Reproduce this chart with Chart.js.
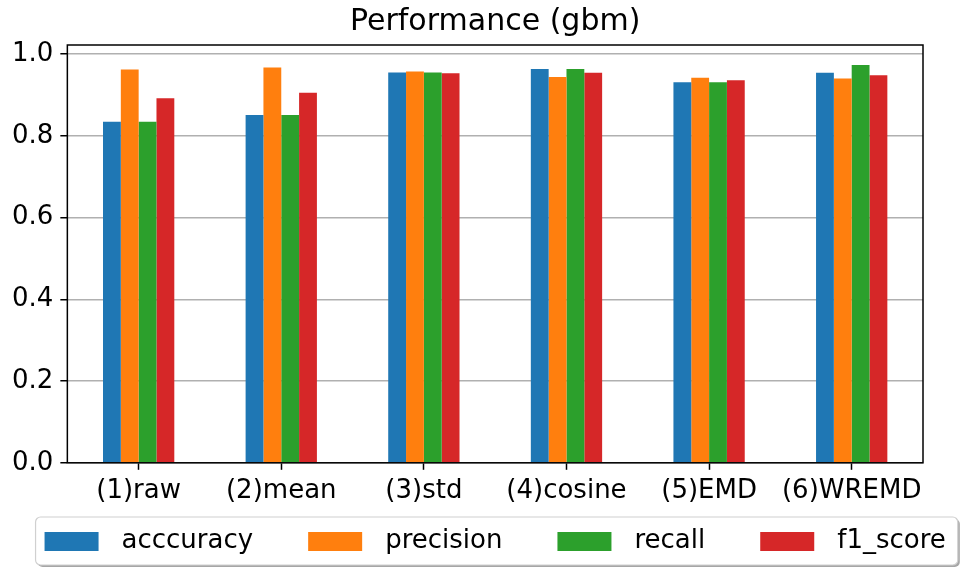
<!DOCTYPE html>
<html>
<head>
<meta charset="utf-8">
<script src="https://cdn.jsdelivr.net/npm/chart.js@4/dist/chart.umd.min.js"></script>
<style>
  html, body { margin: 0; padding: 0; background: #ffffff; }
  #wrap { width: 963px; height: 569px; }
</style>
</head>
<body>
<div id="wrap"><canvas id="chart" width="963" height="569"></canvas></div>
<script>
// Scores of the gbm model for each preprocessing method
const categories = ['(1)raw', '(2)mean', '(3)std', '(4)cosine', '(5)EMD', '(6)WREMD'];
const seriesNames = ['acccuracy', 'precision', 'recall', 'f1_score'];
const accuracy  = [0.834, 0.851, 0.955, 0.963, 0.931, 0.954];
const precision = [0.962, 0.967, 0.957, 0.944, 0.942, 0.940];
const recall    = [0.834, 0.851, 0.955, 0.963, 0.931, 0.973];
const f1Score   = [0.892, 0.905, 0.953, 0.954, 0.936, 0.948];
const yTicks    = [0.0, 0.2, 0.4, 0.6, 0.8, 1.0];

const colors = ['#1f77b4', '#ff7f0e', '#2ca02c', '#d62728'];
const seriesValues = [accuracy, precision, recall, f1Score];
const FONT = 'DejaVu Sans';

// Black frame around the plotting area
const framePlugin = {
  id: 'frame',
  afterDraw(chart) {
    const {ctx, chartArea: a} = chart;
    ctx.save();
    ctx.strokeStyle = '#000000';
    ctx.lineWidth = 1.5;
    ctx.strokeRect(a.left, a.top, a.right - a.left, a.bottom - a.top);
    ctx.restore();
  }
};

// Boxed legend drawn in one row under the axis
const boxLegendPlugin = {
  id: 'boxLegend',
  afterDraw(chart) {
    const {ctx, chartArea: a} = chart;
    const swW = 54, swH = 19, swGap = 23, colGap = 55;
    ctx.save();
    ctx.font = '26px "' + FONT + '"';
    const items = chart.data.datasets.map(ds => ({
      label: ds.label, color: ds.backgroundColor, w: ctx.measureText(ds.label).width
    }));
    const total = items.reduce((s, it) => s + swW + swGap + it.w, 0) + colGap * (items.length - 1);
    const cx = (a.left + a.right) / 2;
    let x = cx - total / 2;
    const boxL = x - 9, boxR = x + total + 12;
    const boxT = 517, boxB = 565, r = 5;
    // shadow
    ctx.fillStyle = 'rgba(0,0,0,0.35)';
    ctx.beginPath();
    ctx.roundRect(boxL + 2, boxT + 2, boxR - boxL, boxB - boxT, r);
    ctx.fill();
    ctx.fillStyle = '#ffffff';
    ctx.strokeStyle = '#d0d0d0';
    ctx.lineWidth = 1.2;
    ctx.beginPath();
    ctx.roundRect(boxL, boxT, boxR - boxL, boxB - boxT, r);
    ctx.fill();
    ctx.stroke();
    const midY = (boxT + boxB) / 2 + 0.5;
    ctx.textBaseline = 'middle';
    ctx.textAlign = 'left';
    items.forEach(it => {
      ctx.fillStyle = it.color;
      ctx.fillRect(x, midY - swH / 2, swW, swH);
      ctx.fillStyle = '#000000';
      ctx.fillText(it.label, x + swW + swGap, midY);
      x += swW + swGap + it.w + colGap;
    });
    ctx.restore();
  }
};

new Chart(document.getElementById('chart'), {
  type: 'bar',
  data: {
    labels: categories,
    datasets: seriesNames.map((name, i) => ({
      label: name,
      data: seriesValues[i],
      backgroundColor: colors[i],
      borderWidth: 0,
      categoryPercentage: 0.5,
      barPercentage: 1.0
    }))
  },
  options: {
    responsive: false,
    animation: false,
    devicePixelRatio: 1,
    layout: { padding: { left: 5, right: 40, top: 0, bottom: 56 } },
    plugins: {
      legend: { display: false },
      tooltip: { enabled: false },
      title: {
        display: true,
        text: 'Performance (gbm)',
        fullSize: false,
        color: '#000000',
        font: { family: FONT, size: 30, weight: 'normal' },
        padding: { top: 4, bottom: 5 }
      }
    },
    scales: {
      x: {
        border: { display: false },
        grid: {
          offset: false,
          drawOnChartArea: false,
          drawTicks: true,
          tickLength: 7,
          tickColor: '#000000',
          tickWidth: 1.5
        },
        ticks: {
          color: '#000000',
          font: { family: FONT, size: 26 },
          padding: 6,
          autoSkip: false,
          maxRotation: 0
        }
      },
      y: {
        min: 0,
        max: 1.022,
        z: 1,
        border: { display: false },
        grid: {
          color: '#b0b0b0',
          lineWidth: 1.5,
          tickLength: 7,
          tickColor: '#000000',
          tickWidth: 1.5
        },
        afterBuildTicks(scale) {
          scale.ticks = yTicks.map(v => ({ value: v }));
        },
        ticks: {
          color: '#000000',
          font: { family: FONT, size: 26 },
          padding: 7,
          includeBounds: false,
          callback: v => Number(v).toFixed(1)
        }
      }
    }
  },
  plugins: [framePlugin, boxLegendPlugin]
});
</script>
</body>
</html>
